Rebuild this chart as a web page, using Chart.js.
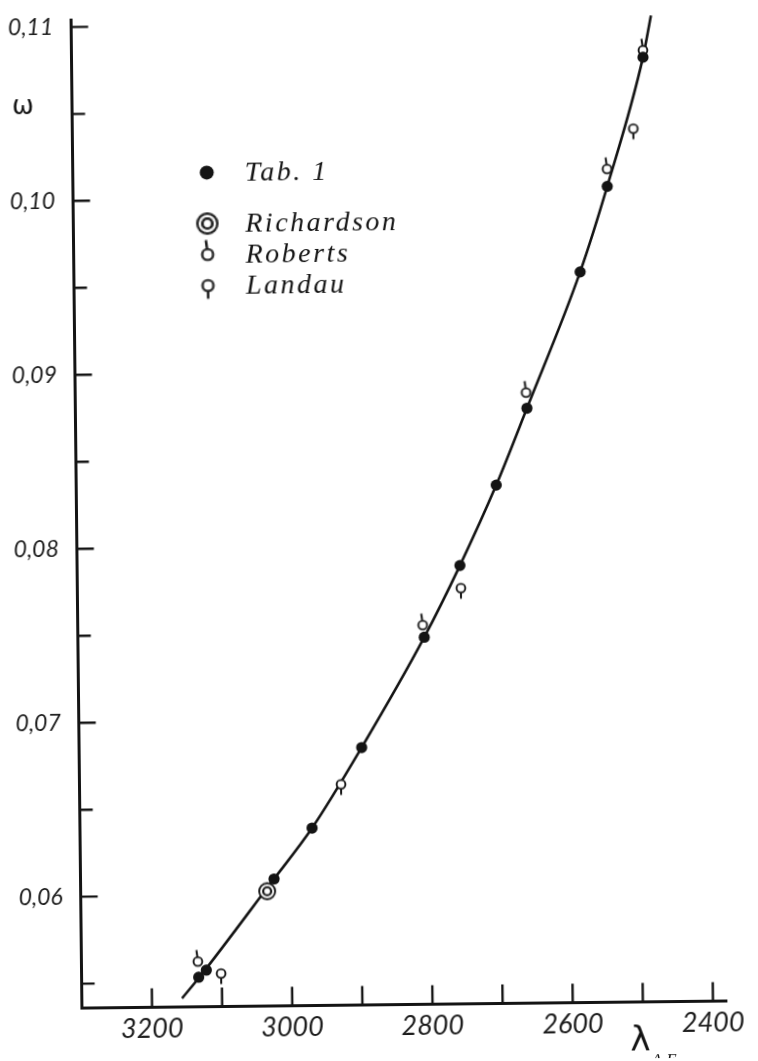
<!DOCTYPE html>
<html>
<head>
<meta charset="utf-8">
<script src="https://cdn.jsdelivr.net/npm/chart.js"></script>
<style>
  html, body { margin: 0; padding: 0; background: #fff; overflow: hidden; }
  /* the scanned figure sits slightly tilted on the page */
  #wrap { width: 758px; height: 1061px; transform: rotate(-0.63deg); transform-origin: 405px 512px; }
</style>
</head>
<body>
<div id="wrap"><canvas id="chart" width="758" height="1061"></canvas></div>
<script>
// wavelength (A.E.) and omega
const tabX = [3133, 3122, 3024, 2969, 2897, 2806, 2754, 2701, 2656, 2578, 2538, 2485];
const tabY = [0.0553, 0.0557, 0.0609, 0.0638, 0.0684, 0.0747, 0.0788, 0.0834, 0.0878, 0.0956, 0.1005, 0.1079];

const richardsonX = [3034];
const richardsonY = [0.0602];

const robertsX = [3134, 2808, 2657, 2538, 2485];
const robertsY = [0.0562, 0.0754, 0.0887, 0.1015, 0.1083];

const landauX = [3101, 2927, 2753, 2500];
const landauY = [0.0555, 0.0663, 0.0775, 0.1038];

// the drawn smooth curve
const curveX = [3157, 3128, 3030, 2969, 2897, 2806, 2754, 2701, 2656, 2578, 2538, 2485, 2473];
const curveY = [0.0541, 0.0555, 0.0606, 0.0638, 0.0684, 0.0747, 0.0788, 0.0834, 0.0878, 0.0956, 0.1005, 0.1079, 0.1103];

const xLabelValues = [3200, 3000, 2800, 2600, 2400];
const yLabelValues = [0.06, 0.07, 0.08, 0.09, 0.10, 0.11];

const legendItems = ['Tab. 1', 'Richardson', 'Roberts', 'Landau'];

const INK = '#141414';

function pts(xs, ys) {
    return xs.map((x, i) => ({x: x, y: ys[i]}));
}

function ringSymbol(stem) {
    const c = document.createElement('canvas');
    c.width = 16;
    c.height = 34;
    const g = c.getContext('2d');
    g.strokeStyle = INK;
    g.fillStyle = '#fff';
    g.lineWidth = 1.9;
    g.beginPath();
    g.arc(8, 17, 4.4, 0, Math.PI * 2);
    g.fill();
    g.stroke();
    g.lineWidth = 2;
    g.beginPath();
    if (stem === 'up') {
        g.moveTo(7.6, 12.6);
        g.lineTo(6.6, 5.5);
    } else {
        g.moveTo(8, 21.4);
        g.lineTo(8, 27.5);
    }
    g.stroke();
    return c;
}

function doubleRing() {
    const c = document.createElement('canvas');
    c.width = 22;
    c.height = 22;
    const g = c.getContext('2d');
    g.strokeStyle = INK;
    g.fillStyle = '#fff';
    g.lineWidth = 1.9;
    g.beginPath();
    g.arc(11, 11, 8, 0, Math.PI * 2);
    g.fill();
    g.stroke();
    g.lineWidth = 2.2;
    g.beginPath();
    g.arc(11, 11, 4, 0, Math.PI * 2);
    g.stroke();
    return c;
}

const robertsSym = ringSymbol('up');
const landauSym = ringSymbol('down');
const richardsonSym = doubleRing();

function isLabel(list, v) {
    return list.find(l => Math.abs(l - v) < 1e-7);
}

const inwardTicks = {
    id: 'inwardTicks',
    beforeDatasetsDraw(chart) {
        const {ctx, chartArea: a, scales: {x, y}} = chart;
        ctx.save();
        ctx.strokeStyle = INK;
        ctx.lineWidth = 2.4;
        ctx.beginPath();
        x.ticks.forEach(t => {
            if (t.value >= x.max) return;
            const px = x.getPixelForValue(t.value);
            ctx.moveTo(px, a.bottom);
            ctx.lineTo(px, a.bottom - 19);
        });
        y.ticks.forEach(t => {
            const py = y.getPixelForValue(t.value);
            const len = isLabel(yLabelValues, t.value) !== undefined ? 17 : 13;
            ctx.moveTo(a.left, py);
            ctx.lineTo(a.left + len, py);
        });
        ctx.stroke();
        ctx.restore();
    }
};

const annotations = {
    id: 'annotations',
    afterDraw(chart) {
        const {ctx, chartArea: a} = chart;
        ctx.save();
        ctx.fillStyle = INK;

        // axis names
        ctx.font = '26px "DejaVu Sans"';
        ctx.textAlign = 'center';
        ctx.textBaseline = 'alphabetic';
        ctx.fillText('ω', a.left - 49, a.top + 94);

        ctx.font = '34px "DejaVu Sans"';
        ctx.fillText('λ', a.right - 87, a.bottom + 48);
        ctx.font = 'italic 17px "Liberation Serif"';
        ctx.textAlign = 'left';
        ctx.textBaseline = 'top';
        ctx.fillText('A·E.', a.right - 76, a.bottom + 51);

        // legend
        const mx = a.left + 134;
        const tx = a.left + 172;
        const rows = [a.top + 154, a.top + 205, a.top + 236, a.top + 267];

        ctx.beginPath();
        ctx.arc(mx, rows[0], 7, 0, Math.PI * 2);
        ctx.fill();
        const s = 1.25;
        ctx.drawImage(richardsonSym, mx - 11 * s, rows[1] - 11 * s, 22 * s, 22 * s);
        ctx.drawImage(robertsSym, mx - 8 * s, rows[2] - 17 * s, 16 * s, 34 * s);
        ctx.drawImage(landauSym, mx - 8 * s, rows[3] - 17 * s, 16 * s, 34 * s);

        ctx.font = 'italic 28px "Liberation Serif"';
        ctx.letterSpacing = '2.5px';
        ctx.textAlign = 'left';
        ctx.textBaseline = 'middle';
        legendItems.forEach((name, i) => ctx.fillText(name, tx, rows[i] + 1));
        ctx.restore();
    }
};

new Chart(document.getElementById('chart'), {
    type: 'scatter',
    data: {
        datasets: [
            {
                label: 'curve',
                data: pts(curveX, curveY),
                showLine: true,
                borderColor: INK,
                borderWidth: 2.6,
                pointRadius: 0,
                cubicInterpolationMode: 'monotone',
                order: 10
            },
            {
                label: legendItems[0],
                data: pts(tabX, tabY),
                pointStyle: 'circle',
                pointRadius: 5.6,
                backgroundColor: INK,
                borderWidth: 0,
                order: 1
            },
            {
                label: legendItems[1],
                data: pts(richardsonX, richardsonY),
                pointStyle: richardsonSym,
                order: 2
            },
            {
                label: legendItems[2],
                data: pts(robertsX, robertsY),
                pointStyle: robertsSym,
                order: 3
            },
            {
                label: legendItems[3],
                data: pts(landauX, landauY),
                pointStyle: landauSym,
                order: 4
            }
        ]
    },
    options: {
        responsive: false,
        animation: false,
        layout: {padding: {left: 0, top: 16.4, right: 36.4, bottom: 0}},
        plugins: {legend: {display: false}, tooltip: {enabled: false}},
        scales: {
            x: {
                type: 'linear',
                reverse: true,
                min: 2380,
                max: 3300,
                afterFit: s => { s.height = 56.5; },
                grid: {display: false, drawTicks: false},
                border: {display: true, color: INK, width: 3},
                ticks: {
                    stepSize: 100,
                    includeBounds: false,
                    autoSkip: false,
                    maxRotation: 0,
                    padding: 6,
                    color: '#1c1c1c',
                    font: {family: 'Lato', style: 'italic', size: 27},
                    callback: v => isLabel(xLabelValues, v) !== undefined ? String(v) : ''
                }
            },
            y: {
                type: 'linear',
                min: 0.0536,
                max: 0.1104,
                afterFit: s => {
                    s.width = 76.5;
                    // labels fit inside the margin already, keep the frame where it is
                    s.paddingTop = 0;
                    s.paddingBottom = 0;
                },
                grid: {display: false, drawTicks: false},
                border: {display: true, color: INK, width: 3},
                ticks: {
                    stepSize: 0.005,
                    includeBounds: false,
                    autoSkip: false,
                    padding: 18,
                    color: '#1c1c1c',
                    font: {family: 'Lato', style: 'italic', size: 23},
                    callback: v => {
                        const hit = isLabel(yLabelValues, v);
                        return hit !== undefined ? hit.toFixed(2).replace('.', ',') : '';
                    }
                }
            }
        }
    },
    plugins: [inwardTicks, annotations]
});
</script>
</body>
</html>
